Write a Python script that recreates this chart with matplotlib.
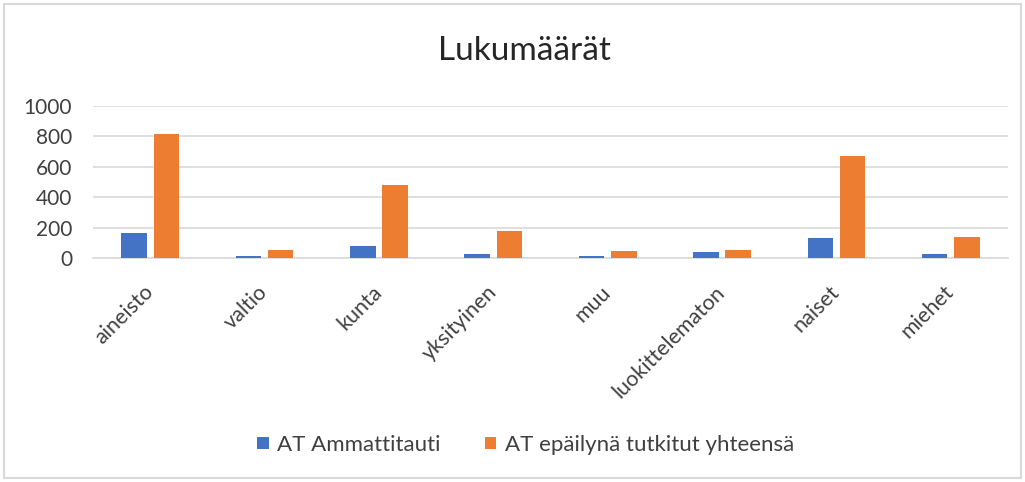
import matplotlib
matplotlib.use("Agg")
import matplotlib.pyplot as plt
import numpy as np
from matplotlib.patches import Rectangle

categories = ["aineisto", "valtio", "kunta", "yksityinen", "muu", "luokittelematon", "naiset", "miehet"]
series_names = ["AT Ammattitauti", "AT epäilynä tutkitut yhteensä"]
at_ammattitauti = [163, 15, 80, 28, 15, 39, 131, 28]
at_epaily = [817, 54, 481, 180, 46, 54, 673, 139]
yticks = [0, 200, 400, 600, 800, 1000]

plt.rcParams['font.family'] = ['Lato', 'DejaVu Sans']

fig = plt.figure(figsize=(10.25, 4.82), dpi=100)
ax = fig.add_axes([93/1025, 1-258.3/482, (1008-93)/1025, (258.3-105.7)/482])

x = np.arange(len(categories))
w = 0.224
gap = 0.058
off = (w + gap) / 2
ax.bar(x - off, at_ammattitauti, width=w, color="#4472C4", label=series_names[0], zorder=3)
ax.bar(x + off, at_epaily, width=w, color="#ED7D31", label=series_names[1], zorder=3)

ax.set_xlim(-0.5, len(categories) - 0.5)
ax.set_ylim(0, 1000)
ax.set_yticks(yticks)
ax.set_yticklabels([str(v) for v in yticks], fontsize=15, color="#404040")
ax.yaxis.grid(True, color="#D9D9D9", linewidth=1.2, zorder=0)
ax.set_xticks(x)
ax.set_xticklabels(categories, rotation=45, ha="right", va="center", rotation_mode="anchor",
                   fontsize=15.5, color="#404040")
ax.tick_params(axis="both", length=0)
ax.tick_params(axis="x", pad=22)
ax.tick_params(axis="y", pad=15)
for s in ["top", "right", "left"]:
    ax.spines[s].set_visible(False)
ax.spines["bottom"].set_color("#D9D9D9")
ax.spines["bottom"].set_linewidth(1.2)

fig.text(0.512, 1 - 51/482, "Lukumäärät", ha="center", va="center", fontsize=24, color="#262626")

leg = fig.legend(loc="center", bbox_to_anchor=(526/1025, 1 - 445/482), ncol=2, frameon=False,
                 fontsize=16, handlelength=0.5, handleheight=0.5, columnspacing=2.0,
                 handletextpad=0.4)
for t in leg.get_texts():
    t.set_color("#404040")

fig.patches.append(Rectangle((4/1025, 4/482), 1017/1025, 474/482, transform=fig.transFigure,
                             fill=False, edgecolor="#D9D9D9", linewidth=1.5))

fig.savefig("out.png", dpi=100)
